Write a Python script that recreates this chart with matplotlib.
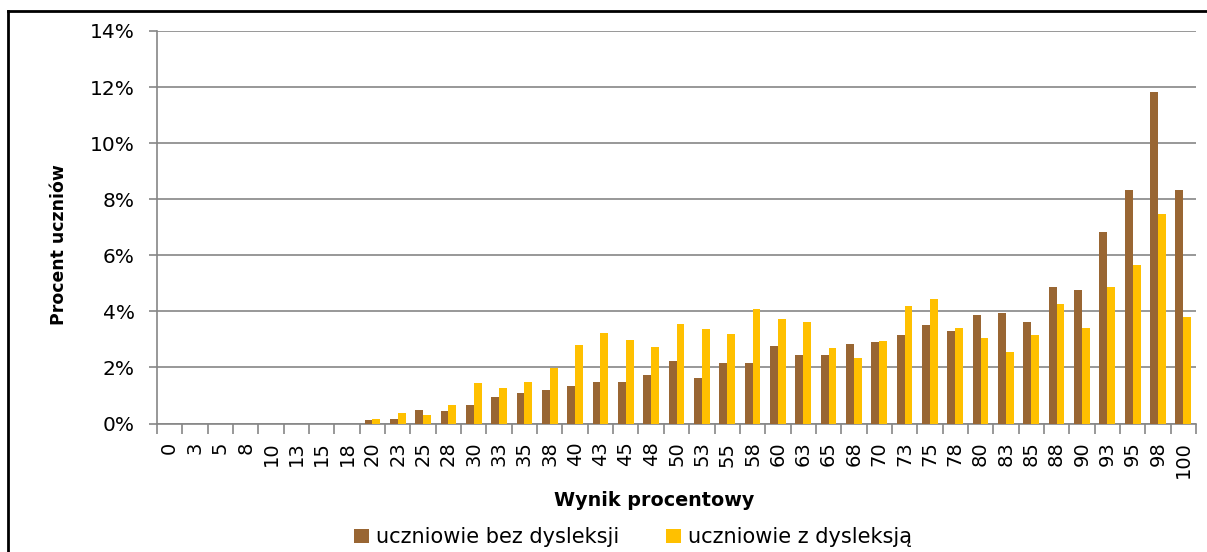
import matplotlib
matplotlib.use("Agg")
import matplotlib.pyplot as plt
import numpy as np
from matplotlib.lines import Line2D
from matplotlib.ticker import FuncFormatter, FixedLocator

categories = ["0", "3", "5", "8", "10", "13", "15", "18", "20", "23", "25", "28",
              "30", "33", "35", "38", "40", "43", "45", "48", "50", "53", "55", "58",
              "60", "63", "65", "68", "70", "73", "75", "78", "80", "83", "85", "88",
              "90", "93", "95", "98", "100"]

bez_dysleksji = [0, 0, 0, 0, 0, 0, 0, 0, 0.12, 0.17, 0.47, 0.44,
                 0.65, 0.95, 1.08, 1.19, 1.33, 1.47, 1.47, 1.72, 2.22, 1.61, 2.15, 2.15,
                 2.76, 2.44, 2.43, 2.85, 2.89, 3.17, 3.53, 3.29, 3.86, 3.93, 3.61, 4.86,
                 4.75, 6.82, 8.32, 11.82, 8.32]

z_dysleksja = [0, 0, 0, 0, 0, 0, 0, 0, 0.16, 0.37, 0.30, 0.65,
               1.45, 1.26, 1.47, 1.97, 2.79, 3.22, 2.97, 2.72, 3.54, 3.36, 3.18, 4.07,
               3.72, 3.61, 2.71, 2.35, 2.96, 4.20, 4.45, 3.39, 3.04, 2.54, 3.17, 4.26,
               3.39, 4.86, 5.64, 7.46, 3.80]

series_names = ["uczniowie bez dysleksji", "uczniowie z dysleksją"]
colors = ["#996633", "#FFC000"]
y_ticks = [0, 2, 4, 6, 8, 10, 12, 14]

plt.rcParams['font.family'] = ['DejaVu Sans']

W, H = 1207, 552
fig = plt.figure(figsize=(W / 100, H / 100), dpi=100)
ax = fig.add_axes([157 / W, 1 - 423.5 / H, (1196 - 157) / W, (423.5 - 31) / H])

x = np.arange(len(categories))
bw = 0.31
ax.bar(x - bw / 2, bez_dysleksji, width=bw, color=colors[0], label=series_names[0], zorder=3)
ax.bar(x + bw / 2, z_dysleksja, width=bw, color=colors[1], label=series_names[1], zorder=3)

ax.set_xlim(-0.5, len(categories) - 0.5)
ax.set_ylim(0, 14)
ax.set_yticks(y_ticks)
ax.yaxis.set_major_formatter(FuncFormatter(lambda v, p: f"{int(v)}%"))
ax.yaxis.grid(True, color="#868686", linewidth=1.2, zorder=0)

ax.set_xticks(x)
ax.set_xticklabels(categories, rotation=90, fontsize=14, va="top", ha="center")
ax.xaxis.set_minor_locator(FixedLocator(np.arange(-0.5, len(categories), 1.0)))
ax.tick_params(axis="x", which="major", length=0, pad=13)
ax.tick_params(axis="x", which="minor", length=7, width=1.2, color="#868686", direction="out")
ax.tick_params(axis="y", length=6, width=1.2, color="#868686", labelsize=14.5, pad=10)

for s in ["top", "right"]:
    ax.spines[s].set_visible(False)
for s in ["left", "bottom"]:
    ax.spines[s].set_color("#868686")
    ax.spines[s].set_linewidth(1.2)

fig.text(59 / W, 1 - 245 / H, "Procent uczniów", rotation=90, ha="center", va="center",
         fontsize=12.4, fontweight="bold")
fig.text(654 / W, 1 - 501 / H, "Wynik procentowy", ha="center", va="center",
         fontsize=13.8, fontweight="bold")

leg = fig.legend(loc="center", bbox_to_anchor=(633 / W, 1 - 537 / H), ncol=2, frameon=False,
                 fontsize=15, handlelength=0.72, handleheight=0.65, handletextpad=0.38,
                 columnspacing=2.2, borderpad=0, borderaxespad=0)

# outer frame (left and top edges)
fig.add_artist(Line2D([8 / W, 8 / W], [0, 1 - 11 / H], color="black", linewidth=2,
                      transform=fig.transFigure))
fig.add_artist(Line2D([8 / W, 1], [1 - 11 / H, 1 - 11 / H], color="black", linewidth=2,
                      transform=fig.transFigure))

fig.savefig("out.png", dpi=100, facecolor="white")
